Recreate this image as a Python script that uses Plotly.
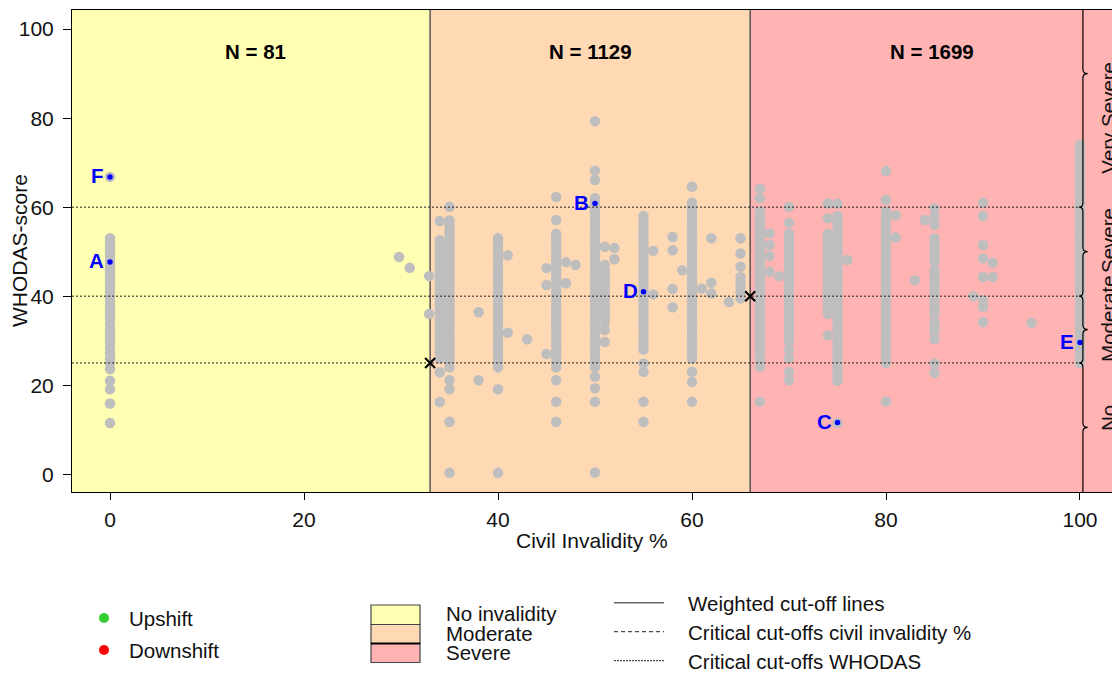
import plotly.graph_objects as go

FONT = "Liberation Sans, Arial, Helvetica, sans-serif"

# Civil invalidity levels (x) and WHODAS scores observed at each level
invalidity_levels = [0, 29.8, 30.9, 32.9, 34, 35, 38, 40, 41, 43, 45, 46, 47, 48, 50, 51, 52,
                     55, 56, 58, 59, 60, 61, 62, 63.8, 65, 67, 68, 69, 70, 74, 75, 76, 80, 81,
                     83, 84, 85, 89, 90, 91, 95, 100]
whodas_by_level = [
    [11.5, 15.9, 19.1, 21.0, 23.6, 25.0, 26.0, 27.2, 28.3, 29.6, 30.5, 31.6, 32.6, 33.8, 35, 36,
     37, 38, 39, 40, 41, 42, 43, 44, 45, 46, 47, 48, 49, 50, 51, 52, 53, 66.8],
    [48.8],
    [46.4],
    [36.0, 44.5],
    [16.2, 22.9, 26, 27.2, 28.3, 29.5, 30.6, 31.7, 32.8, 33.9, 35, 36.2, 37.3, 38.4, 39.5, 40.6,
     41.7, 42.8, 43.9, 45, 46.1, 47.2, 48.3, 49.4, 50.5, 51.6, 52.6, 56.9],
    [0.3, 11.8, 19.1, 21.1, 24, 25, 26, 27, 28, 29, 30, 31, 32, 33, 34, 35, 36, 37, 38, 39, 40,
     41, 42, 43, 44, 45, 46, 47, 48, 49, 50, 51, 52, 53, 54, 55, 56, 57, 60.1],
    [21.1, 36.4],
    [0.3, 19.1, 24, 25, 26, 27, 28, 29, 30, 31, 32, 33, 34, 35, 36, 37, 38, 39, 40, 41, 42, 43,
     44, 45, 46, 47, 48, 49, 50, 51, 52, 53],
    [31.8, 49.2],
    [30.3],
    [27.0, 42.5, 46.3],
    [11.8, 16.3, 21.1, 24, 25, 26, 27, 28, 29, 30, 31, 32, 33, 34, 35, 36, 37, 38, 39, 40, 41,
     42, 43, 44, 45, 46, 47, 48, 49, 50, 51, 52, 53, 54, 57.1, 62.3],
    [42.9, 47.6],
    [47.0],
    [0.4, 16.3, 19.3, 21.9, 24, 25, 26, 27, 28, 29, 30, 31, 32, 33, 34, 35, 36, 37, 38, 39, 40,
     41, 42, 43, 44, 45, 46, 47, 48, 49, 50, 51, 52, 53, 54, 55, 56, 57, 58, 59, 60, 61, 62,
     66.1, 68.2, 79.3],
    [29.7, 32.4, 34, 35, 36, 37, 38, 39, 40, 41, 42, 43, 44, 45, 46, 47, 51.1],
    [48.3, 50.8],
    [11.8, 16.3, 23.0, 24.9, 28, 29, 30, 31, 32, 33, 34, 35, 36, 37, 38, 39, 40, 41, 42, 43, 44,
     45, 46, 47, 48, 49, 50, 51, 52, 53, 54, 55, 56, 57, 58],
    [40.4, 50.2],
    [37.5, 41.6, 50.3, 53.3],
    [45.8],
    [16.3, 20.7, 23.0, 26, 27, 28, 29, 30, 31, 32, 33, 34, 35, 36, 37, 38, 39, 40, 41, 42, 43,
     44, 45, 46, 47, 48, 49, 50, 51, 52, 53, 54, 55, 56, 57, 58, 59, 60, 61, 64.6],
    [41.7],
    [40.6, 43.0, 53.0],
    [38.7],
    [39.5, 40.8, 42.0, 43.2, 44.3, 46.6, 49.6, 53.0],
    [16.3, 24.1, 25.6, 27, 28, 29, 30, 31, 32, 33, 34, 35, 36, 37, 38, 39, 40, 41, 42, 43, 44,
     45, 46, 47, 48, 49, 50, 51, 52, 53, 54, 55, 56, 57, 58, 59, 62.0, 64.2],
    [45.5, 49.0, 51.5, 54.1],
    [44.5],
    [21.1, 23.0, 26.1, 27.9, 29.7, 31, 32, 33, 34, 35, 36, 37, 38, 39, 40, 41, 42, 43, 44, 45,
     46, 47, 48, 49, 50, 51, 52, 53, 54, 56.5, 60.1],
    [31.2, 36, 37, 38, 39, 40, 41, 42, 43, 44, 45, 46, 47, 48, 49, 50, 51, 52, 53, 54, 57.5, 60.8],
    [11.5, 21, 22, 23, 24, 25, 26, 27, 28, 29, 30, 31, 32, 33, 34, 35, 36, 37, 38, 39, 40, 41,
     42, 43, 44, 45, 46, 47, 48, 49, 50, 51, 52, 53, 54, 55, 56, 57, 58, 60.8],
    [48.1],
    [16.3, 25, 26, 27, 28, 29, 30, 31, 32, 33, 34, 35, 36, 37, 38, 39, 40, 41, 42, 43, 44, 45,
     46, 47, 48, 49, 50, 51, 52, 53, 54, 55, 56, 57, 58, 59, 61.6, 68.1],
    [53.2, 58.2],
    [43.6],
    [57.1],
    [22.8, 24.9, 30.3, 32.0, 33.1, 34.2, 36, 37, 38, 39, 40, 41, 42, 43, 44, 45, 46, 48, 49, 50,
     51, 52, 53, 56.0, 57.8, 59.7],
    [40.0],
    [34.2, 37.6, 39.1, 44.3, 48.5, 51.5, 58.0, 61.0],
    [44.3, 47.5],
    [34.0],
    [25, 26, 27, 28, 29, 30, 31, 32, 33, 34, 35, 36, 37, 38, 39, 40, 41, 42, 43, 44, 45, 46, 47,
     48, 49, 50, 51, 52, 53, 54, 55, 56, 57, 58, 59, 60, 61, 62, 63, 64, 65, 66, 67, 68, 69, 70,
     71, 72, 73, 74],
]

# Highlighted cases
case_labels = ["A", "B", "C", "D", "E", "F"]
case_invalidity = [0, 50, 75, 55, 100, 0]
case_whodas = [47.7, 60.8, 11.6, 41.0, 29.6, 66.8]

# Cut-offs
civil_cutoffs = [33, 66]
whodas_cutoffs = [25, 40, 60]
weighted_x = [33, 66]
weighted_y = [25, 40]

# Invalidity groups
group_bounds = [(-3.92, 33), (33, 66), (66, 103.3)]
group_colors = ["#FFFFB3", "#FED9B4", "#FFB3B3"]
group_names = ["No invalidity", "Moderate", "Severe"]
group_counts = ["N = 81", "N = 1129", "N = 1699"]
group_label_x = [15, 49.5, 84.7]

# WHODAS severity bands shown with braces on the right
severity_names = ["No", "Moderate", "Severe", "Very Severe"]
severity_label_y = [12.5, 35, 52.5, 80]
brace_segments = [(-4, 25), (25, 40), (40, 60), (60, 120)]

X_RANGE = [-3.92, 103.3]
Y_RANGE = [-4.0, 104.3]
W, H = 1112, 675
ML, MR, MT, MB = 72, 0, 10, 183
PW, PH = W - ML - MR, H - MT - MB
TXT = 20.5
TICK = 21


def px_x(px):
    return (px - ML) / PW


def px_y(py):
    return (H - MB - py) / PH


xs, ys = [], []
for lvl, vals in zip(invalidity_levels, whodas_by_level):
    for v in vals:
        xs.append(lvl)
        ys.append(v)

fig = go.Figure()

fig.add_trace(go.Scatter(
    x=xs, y=ys, mode="markers",
    marker=dict(color="#BEBEBE", size=10.5, line=dict(width=0)),
    showlegend=False, hoverinfo="skip", cliponaxis=True))

fig.add_trace(go.Scatter(
    x=weighted_x, y=weighted_y, mode="markers",
    marker=dict(symbol="x-thin", size=10, color="black", line=dict(width=2.2, color="black")),
    showlegend=False, hoverinfo="skip"))

fig.add_trace(go.Scatter(
    x=case_invalidity, y=case_whodas, mode="markers",
    marker=dict(color="#0000FF", size=5.5),
    showlegend=False, hoverinfo="skip"))

shapes = []
for (x0, x1), col in zip(group_bounds, group_colors):
    shapes.append(dict(type="rect", xref="x", yref="paper", x0=x0, x1=x1, y0=0, y1=1,
                       fillcolor=col, line=dict(width=0), layer="below"))
for c in civil_cutoffs:
    shapes.append(dict(type="line", xref="x", yref="paper", x0=c, x1=c, y0=0, y1=1,
                       line=dict(color="#555555", width=1.5), layer="below"))

BRACE_X = 100.3
for c in whodas_cutoffs:
    shapes.append(dict(type="line", xref="x", yref="y", x0=X_RANGE[0], x1=BRACE_X, y0=c, y1=c,
                       line=dict(color="#222222", width=1, dash="2px,2px"), layer="above"))

# Curly braces marking the WHODAS bands
w_nub, w_joint, d = 0.5, 0.4, 1.0
path = f"M {BRACE_X},{Y_RANGE[1]}"
for lo, hi in reversed(brace_segments):
    mid = (lo + hi) / 2
    if hi < Y_RANGE[1]:
        path += (f" L {BRACE_X},{hi + d} Q {BRACE_X},{hi} {BRACE_X - w_joint},{hi}"
                 f" Q {BRACE_X},{hi} {BRACE_X},{hi - d}")
    path += (f" L {BRACE_X},{mid + d} Q {BRACE_X},{mid} {BRACE_X + w_nub},{mid}"
             f" Q {BRACE_X},{mid} {BRACE_X},{mid - d}")
path += f" L {BRACE_X},{Y_RANGE[0]}"
shapes.append(dict(type="path", xref="x", yref="y", path=path,
                   line=dict(color="black", width=1.2), layer="above"))

annotations = []
for txt, gx in zip(group_counts, group_label_x):
    annotations.append(dict(x=gx, y=95, xref="x", yref="y", text=f"<b>{txt}</b>",
                            showarrow=False, yanchor="middle",
                            font=dict(family=FONT, size=20.5, color="black")))

for lab, cx, cy in zip(case_labels, case_invalidity, case_whodas):
    annotations.append(dict(x=cx, y=cy, xref="x", yref="y", text=f"<b>{lab}</b>",
                            showarrow=False, xanchor="right", yanchor="middle",
                            xshift=-4, yshift=1,
                            font=dict(family=FONT, size=20.5, color="#0000FF")))

for name, sy in zip(severity_names, severity_label_y):
    annotations.append(dict(x=px_x(1108.5), y=sy, xref="paper", yref="y", text=name,
                            showarrow=False, textangle=-90, xanchor="center", yanchor="middle",
                            font=dict(family=FONT, size=TXT, color="#111111")))

# Axis titles
annotations.append(dict(x=px_x(592), y=px_y(540), xref="paper", yref="paper",
                        text="Civil Invalidity %", showarrow=False,
                        xanchor="center", yanchor="middle",
                        font=dict(family=FONT, size=TICK, color="#111111")))
annotations.append(dict(x=px_x(19), y=px_y(251), xref="paper", yref="paper",
                        text="WHODAS-score", showarrow=False, textangle=-90,
                        xanchor="center", yanchor="middle",
                        font=dict(family=FONT, size=TICK, color="#111111")))

# Legend: shift direction
for col, py, name in [("#33CC33", 618, "Upshift"), ("#FF0000", 650, "Downshift")]:
    r = 5
    shapes.append(dict(type="circle", xref="paper", yref="paper",
                       x0=px_x(104 - r), x1=px_x(104 + r), y0=px_y(py + r), y1=px_y(py - r),
                       fillcolor=col, line=dict(width=0)))
    annotations.append(dict(x=px_x(127), y=px_y(py), xref="paper", yref="paper", text=name,
                            showarrow=False, xanchor="left", yanchor="middle",
                            font=dict(family=FONT, size=TXT, color="#111111")))

# Legend: invalidity groups
box_edges = [605, 624.5, 643.5, 662.5]
for i, (col, name) in enumerate(zip(group_colors, group_names)):
    shapes.append(dict(type="rect", xref="paper", yref="paper",
                       x0=px_x(371), x1=px_x(420), y0=px_y(box_edges[i + 1]), y1=px_y(box_edges[i]),
                       fillcolor=col, line=dict(color="#444444", width=1.2)))
    annotations.append(dict(x=px_x(444), y=px_y((box_edges[i] + box_edges[i + 1]) / 2 - 1),
                            xref="paper", yref="paper", text=name, showarrow=False,
                            xanchor="left", yanchor="middle",
                            font=dict(family=FONT, size=TXT, color="#111111")))
shapes.append(dict(type="line", xref="paper", yref="paper", x0=px_x(371), x1=px_x(420),
                   y0=px_y(643.5), y1=px_y(643.5), line=dict(color="black", width=2)))

# Legend: line types
for py, dash, col, wdt, name in [
        (602.7, "solid", "#666666", 1.6, "Weighted cut-off lines"),
        (631.7, "4px,3px", "#222222", 1, "Critical cut-offs civil invalidity %"),
        (660.7, "2px,1px", "#222222", 1, "Critical cut-offs WHODAS")]:
    shapes.append(dict(type="line", xref="paper", yref="paper", x0=px_x(614), x1=px_x(664),
                       y0=px_y(py), y1=px_y(py), line=dict(color=col, width=wdt, dash=dash)))
    annotations.append(dict(x=px_x(686), y=px_y(py + 0.5), xref="paper", yref="paper", text=name,
                            showarrow=False, xanchor="left", yanchor="middle",
                            font=dict(family=FONT, size=TXT, color="#111111")))

fig.update_layout(
    width=W, height=H,
    margin=dict(l=ML, r=MR, t=MT, b=MB, autoexpand=False),
    paper_bgcolor="white", plot_bgcolor="white",
    font=dict(family=FONT, size=TXT, color="#111111"),
    showlegend=False,
    shapes=shapes, annotations=annotations,
    xaxis=dict(range=X_RANGE, tickvals=[0, 20, 40, 60, 80, 100], showgrid=False, zeroline=False,
               showline=True, mirror=True, linecolor="black", linewidth=1,
               ticks="outside", ticklen=7, tickwidth=1, tickcolor="black",
               ticklabelstandoff=2,
               tickfont=dict(family=FONT, size=TICK, color="#111111")),
    yaxis=dict(range=Y_RANGE, tickvals=[0, 20, 40, 60, 80, 100], showgrid=False, zeroline=False,
               showline=True, mirror=False, linecolor="black", linewidth=1,
               ticks="outside", ticklen=8, tickwidth=1, tickcolor="black",
               ticklabelstandoff=5,
               tickfont=dict(family=FONT, size=TICK, color="#111111")),
)

fig.write_html("out.html")
